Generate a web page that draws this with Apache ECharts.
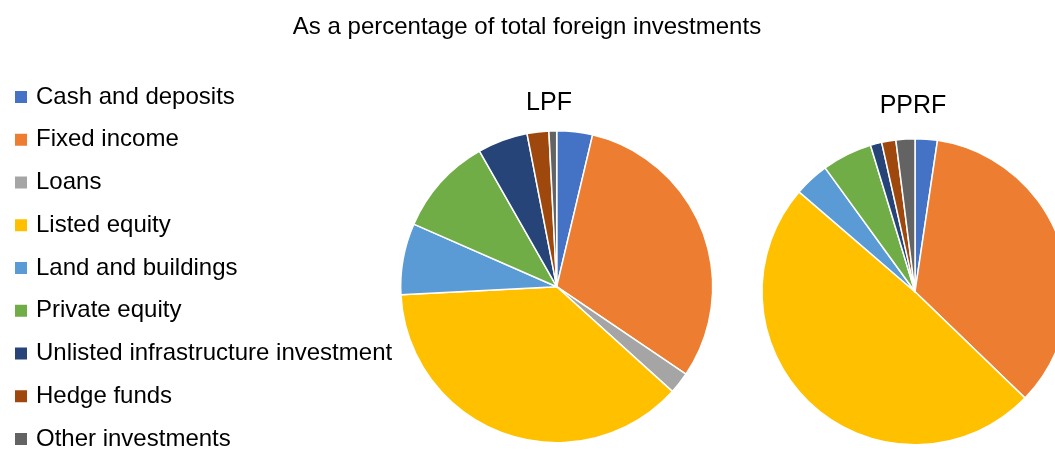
<!DOCTYPE html>
<html>
<head>
<meta charset="utf-8">
<script src="https://cdn.jsdelivr.net/npm/echarts@6/dist/echarts.min.js"></script>
<style>
html,body{margin:0;padding:0;background:#fff;}
#chart{width:1055px;height:450px;}
</style>
</head>
<body>
<div id="chart"></div>
<script>
var categories = ["Cash and deposits","Fixed income","Loans","Listed equity","Land and buildings","Private equity","Unlisted infrastructure investment","Hedge funds","Other investments"];
var colors = ["#4472C4","#ED7D31","#A5A5A5","#FFC000","#5B9BD5","#70AD47","#264478","#9E480E","#636363"];
var lpfValues = [3.7, 30.8, 2.25, 37.5, 7.4, 10.2, 5.2, 2.25, 0.8];
var pprfValues = [2.35, 34.9, 0.0, 49.1, 3.7, 5.3, 1.2, 1.5, 2.0];
var chartTitle = "As a percentage of total foreign investments";
var pieNames = ["LPF","PPRF"];

var font = '"Liberation Sans",Arial,sans-serif';
var chart = echarts.init(document.getElementById('chart'), null, {renderer:'canvas'});

function mk(vals){ return categories.map(function(c,i){ return {name:c, value:vals[i]}; }); }

var pieCommon = {
  type:'pie',
  startAngle:90,
  clockwise:true,
  label:{show:false},
  labelLine:{show:false},
  emphasis:{disabled:true},
  animation:false,
  minAngle:0,
  avoidLabelOverlap:false,
  itemStyle:{borderColor:'#ffffff', borderWidth:1.5}
};

chart.setOption({
  color: colors,
  animation:false,
  title:[
    {text:chartTitle, left:527, textAlign:'center', top:15, padding:0,
     textStyle:{fontFamily:font, fontSize:24, fontWeight:'normal', color:'#000'}},
    {text:pieNames[0], left:549, textAlign:'center', top:91, padding:0,
     textStyle:{fontFamily:font, fontSize:25, fontWeight:'normal', color:'#000'}},
    {text:pieNames[1], left:913, textAlign:'center', top:94, padding:0,
     textStyle:{fontFamily:font, fontSize:25, fontWeight:'normal', color:'#000'}}
  ],
  legend:{
    orient:'vertical',
    left:13,
    top:83,
    height:420,
    padding:0,
    itemWidth:14,
    itemHeight:14,
    itemGap:14.75,
    icon:'rect',
    data:categories,
    selectedMode:false,
    textStyle:{fontFamily:font, fontSize:24, color:'#000', lineHeight:28, padding:[0,0,0,3]}
  },
  series:[
    Object.assign({}, pieCommon, {name:pieNames[0], center:[556.7,286.7], radius:156, data:mk(lpfValues)}),
    Object.assign({}, pieCommon, {name:pieNames[1], center:[915,291.7], radius:153, data:mk(pprfValues)})
  ]
});
</script>
</body>
</html>
